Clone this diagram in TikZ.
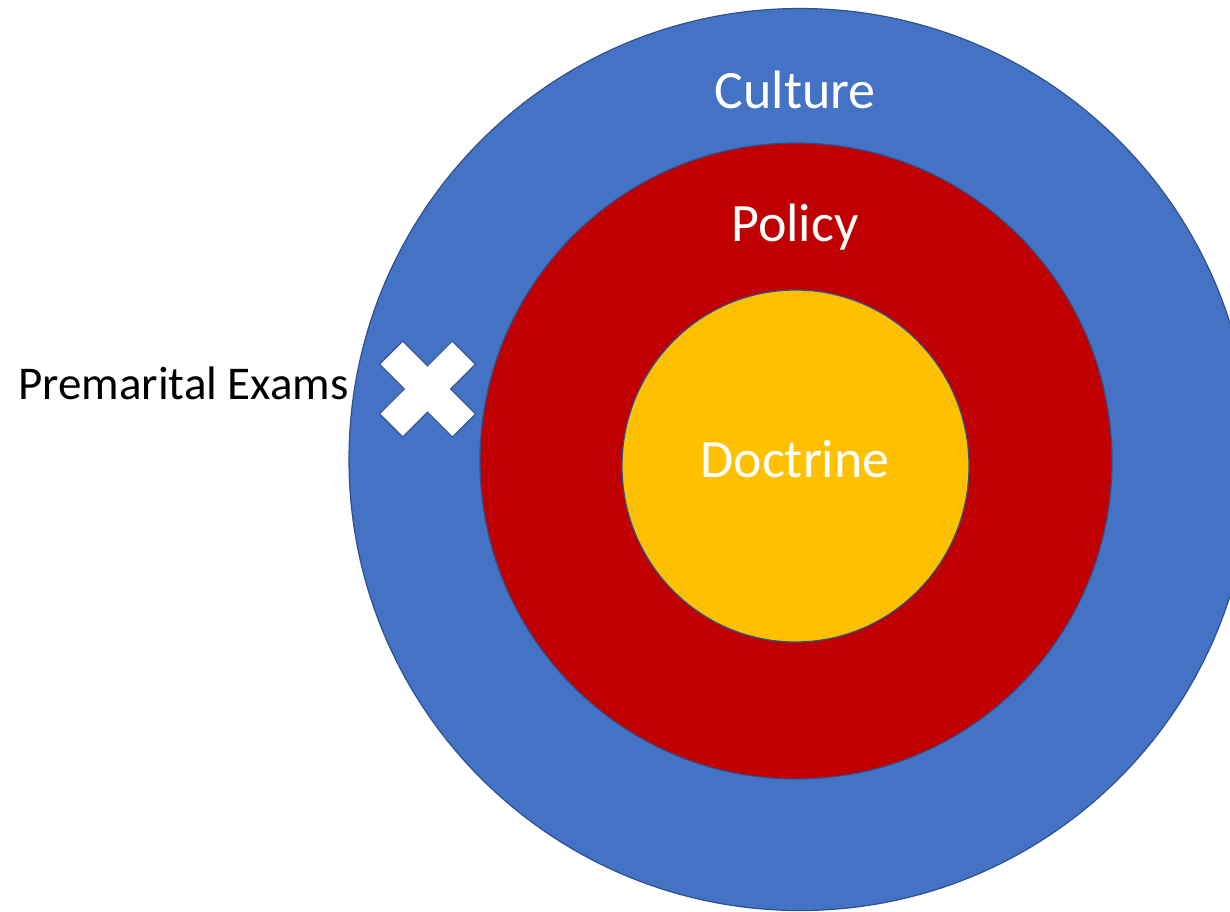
\documentclass[tikz,border=0pt]{standalone}
\usepackage{fontspec}
\setmainfont{Carlito}
\definecolor{ringblue}{HTML}{4472C4}
\definecolor{ringred}{HTML}{C00000}
\definecolor{ringyellow}{HTML}{FFC000}
\definecolor{edgeblue}{HTML}{2F528F}
\begin{document}
\begin{tikzpicture}[x=1pt,y=-1pt,
  ring/.style={draw=edgeblue,line width=1.2pt},
  lbl/.style={text=white,font=\fontsize{54}{60}\selectfont,anchor=base,inner sep=0pt},
  side/.style={text=black,font=\fontsize{47}{52}\selectfont,anchor=base west,inner sep=0pt}]
\useasboundingbox (0,0) rectangle (1230,911);
\clip (0,0) rectangle (1230,911);
\fill[white] (0,0) rectangle (1230,911);
\draw[ring,fill=ringblue] (800,459.5) circle (451);
\draw[ring,fill=ringred] (796,461) ellipse [x radius=316, y radius=318];
\draw[ring,fill=ringyellow] (795.5,466) ellipse [x radius=173.5, y radius=176];
\node[lbl] (culture) at (795,108) {Culture};
\node[lbl] (policy) at (795,241) {Policy};
\node[lbl] (doctrine) at (795,477) {Doctrine};
\node[side] (exams) at (18,399) {Premarital Exams};
\draw[draw=edgeblue,line width=1pt,fill=white,shift={(427.5,389)},rotate=45]
  (16.3,16.3) -- (51.4,16.3) -- (51.4,-16.3) -- (16.3,-16.3) -- (16.3,-51.4)
  -- (-16.3,-51.4) -- (-16.3,-16.3) -- (-51.4,-16.3) -- (-51.4,16.3)
  -- (-16.3,16.3) -- (-16.3,51.4) -- (16.3,51.4) -- cycle;
\end{tikzpicture}
\end{document}
